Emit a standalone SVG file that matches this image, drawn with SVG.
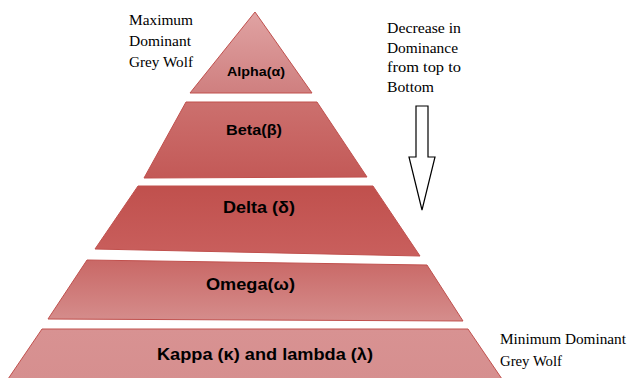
<svg xmlns="http://www.w3.org/2000/svg" width="630" height="378" viewBox="0 0 630 378">
<style>
.band{stroke:#c0504d;stroke-width:1;stroke-linejoin:miter}
.lbl{font-family:"Liberation Sans",Arial,sans-serif;font-weight:bold;fill:#000}
.note{font-family:"Liberation Serif","DejaVu Serif",serif;font-size:15.5px;fill:#000}
.arrow{fill:#fff;stroke:#000;stroke-width:1.2}
</style>
<defs>
<linearGradient id="gA" x1="0" y1="0" x2="0" y2="1"><stop offset="0" stop-color="#e0a3a3"/><stop offset="1" stop-color="#cf7f7f"/></linearGradient>
<linearGradient id="gB" x1="0" y1="0" x2="0" y2="1"><stop offset="0" stop-color="#cc706e"/><stop offset="1" stop-color="#c35957"/></linearGradient>
<linearGradient id="gD" x1="0" y1="0" x2="0" y2="1"><stop offset="0" stop-color="#c0504d"/><stop offset="1" stop-color="#c95f5d"/></linearGradient>
<linearGradient id="gO" x1="0" y1="0" x2="0" y2="1"><stop offset="0" stop-color="#c96866"/><stop offset="1" stop-color="#d58d8c"/></linearGradient>
<linearGradient id="gK" x1="0" y1="0" x2="0" y2="1"><stop offset="0" stop-color="#d89292"/><stop offset="1" stop-color="#d68f8f"/></linearGradient>
</defs>
<rect width="630" height="378" fill="#fff"/>
<g id="alpha">
<polygon class="band" fill="url(#gA)" points="255,12 312,93 190,93"/>
<text class="lbl" font-size="12" x="227" y="76" textLength="58" lengthAdjust="spacingAndGlyphs">Alpha(α)</text>
</g>
<g id="beta">
<polygon class="band" fill="url(#gB)" points="186,102 317,102 367,177 144,178"/>
<text class="lbl" font-size="14" x="226" y="135" textLength="56" lengthAdjust="spacingAndGlyphs">Beta(β)</text>
</g>
<g id="delta">
<polygon class="band" fill="url(#gD)" points="138,186 373,186 420,256 95,249"/>
<text class="lbl" font-size="16" x="223" y="213" textLength="72" lengthAdjust="spacingAndGlyphs">Delta (δ)</text>
</g>
<g id="omega">
<polygon class="band" fill="url(#gO)" points="87,260 427,265 463,321 48,319"/>
<text class="lbl" font-size="16" x="206" y="290" textLength="89" lengthAdjust="spacingAndGlyphs">Omega(ω)</text>
</g>
<g id="kappa">
<polygon class="band" fill="url(#gK)" points="42,329 468,329 502,379 8,379"/>
<text class="lbl" font-size="17" x="157" y="360" textLength="216" lengthAdjust="spacingAndGlyphs">Kappa (κ) and lambda (λ)</text>
</g>
<g id="max-label">
<text class="note" x="129" y="25" textLength="64" lengthAdjust="spacingAndGlyphs">Maximum</text>
<text class="note" x="129" y="46" textLength="62" lengthAdjust="spacingAndGlyphs">Dominant</text>
<text class="note" x="129" y="67" textLength="64" lengthAdjust="spacingAndGlyphs">Grey Wolf</text>
</g>
<g id="decrease-label">
<text class="note" x="387" y="33" textLength="74" lengthAdjust="spacingAndGlyphs">Decrease in</text>
<text class="note" x="387" y="53" textLength="71" lengthAdjust="spacingAndGlyphs">Dominance</text>
<text class="note" x="387" y="72" textLength="74" lengthAdjust="spacingAndGlyphs">from top to</text>
<text class="note" x="387" y="92" textLength="47" lengthAdjust="spacingAndGlyphs">Bottom</text>
</g>
<g id="min-label">
<text class="note" x="500" y="344" textLength="126" lengthAdjust="spacingAndGlyphs">Minimum Dominant</text>
<text class="note" x="500" y="366" textLength="62" lengthAdjust="spacingAndGlyphs">Grey Wolf</text>
</g>
<g id="connectors">
<polygon class="arrow" points="416,106 428,106 428,157 435,157 422,210 409,157 416,157"/>
</g>
</svg>
